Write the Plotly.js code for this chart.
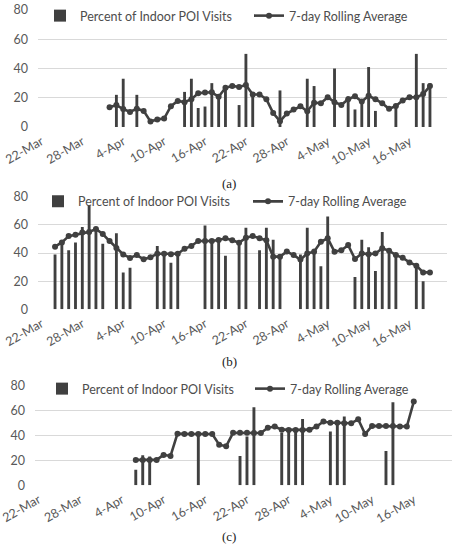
<!DOCTYPE html>
<html><head><meta charset="utf-8">
<script src="https://cdn.plot.ly/plotly-3.0.1.min.js"></script>
<style>html,body{margin:0;padding:0;background:#fff}#chart{width:458px;height:550px}</style>
</head><body><div id="chart"></div>
<script>
// Category dates (x axis)
const dates = ['22-Mar','23-Mar','24-Mar','25-Mar','26-Mar','27-Mar','28-Mar','29-Mar','30-Mar',
  '1-Apr','2-Apr','3-Apr','4-Apr','5-Apr','6-Apr','7-Apr','8-Apr','9-Apr','10-Apr','11-Apr','12-Apr',
  '13-Apr','14-Apr','15-Apr','16-Apr','17-Apr','18-Apr','19-Apr','20-Apr','21-Apr','22-Apr','23-Apr',
  '24-Apr','25-Apr','26-Apr','27-Apr','28-Apr','29-Apr','30-Apr',
  '1-May','2-May','3-May','4-May','5-May','6-May','7-May','8-May','9-May','10-May','11-May','12-May',
  '13-May','14-May','15-May','16-May','17-May','18-May','19-May','20-May','21-May'];
const tickLabels = ['22-Mar','28-Mar','4-Apr','10-Apr','16-Apr','22-Apr','28-Apr','4-May','10-May','16-May'];

// Panel (a)
const aBarDates = ['3-Apr','4-Apr','6-Apr','13-Apr','14-Apr','15-Apr','16-Apr','17-Apr','18-Apr','19-Apr',
  '21-Apr','22-Apr','23-Apr','27-Apr','1-May','2-May','5-May','7-May','8-May','9-May','10-May','11-May',
  '14-May','17-May','18-May','19-May'];
const aBarValues = [22,33,22,24,33,13,14,30,22,27,15,50,22,25,33,28,40,21,12,19,41,11,15,50,30,30];
const aAvgStart = '2-Apr';
const aAvgValues = [13.5,15,12.3,10.3,12.5,11,3.8,5.2,5.8,14.2,17.8,17,19,23,23.6,23.7,20.7,26.8,28.1,27.4,
  28.7,22.2,22.2,19,9.6,4,9.2,11.9,14.2,10.8,16.6,16.3,20.4,17,15,19,21,17.4,21.3,19,16.2,12.4,14.4,18.2,
  20.3,20.3,22.5,28];

// Panel (b)
const bBarDates = ['24-Mar','25-Mar','26-Mar','27-Mar','28-Mar','29-Mar','30-Mar','1-Apr','3-Apr','4-Apr',
  '5-Apr','9-Apr','10-Apr','11-Apr','12-Apr','16-Apr','17-Apr','18-Apr','19-Apr','21-Apr','22-Apr',
  '24-Apr','25-Apr','26-Apr','27-Apr','30-Apr','1-May','2-May','3-May','4-May','8-May','9-May','10-May',
  '11-May','12-May','13-May','14-May','17-May','18-May'];
const bBarValues = [39,47,42,47.5,58.5,74,56,46.5,54,26.2,29.5,45,40,33,40,59.5,49,49.5,38,48,58,42,58,
  49.5,37,39,58,43,30.5,66,23,49.5,44,27.2,55,41.6,38.5,30.5,20];
const bAvgStart = '24-Mar';
const bAvgValues = [44.5,47.5,52,53,54.5,55,57,53.5,48.5,43.5,39,36.5,38.5,35.5,37,39.5,39.5,39.2,39.5,
  43,45,48.5,48.5,48.5,49.2,50.4,49,47.3,50.8,52,50.5,49,37.4,37.4,41,38.5,35.3,39.7,40.9,48,50.4,40.9,
  42,45.6,35.7,39.7,39.2,39.7,43.3,41.6,38.5,36.6,33.3,31,26.2,26.2];

// Panel (c)
const cBarDates = ['6-Apr','7-Apr','8-Apr','15-Apr','21-Apr','22-Apr','23-Apr','27-Apr','28-Apr','29-Apr',
  '30-Apr','4-May','5-May','6-May','12-May','13-May'];
const cBarValues = [12.5,24,23,41.5,23.5,39,62.4,42,43,44,53,43,50,55,27.5,66.4];
const cAvgStart = '6-Apr';
const cAvgValues = [20.3,20.3,20.3,20.3,24.3,23.5,41.3,41,41,41,41,41,32.5,31.2,42,42,42,41.8,41.8,46,47,
  44.5,44.3,44.3,44.3,44.5,47,51,50,50,49.6,49.6,52.8,41,47.5,47.5,47.5,47.5,47,47,67];

const barName = 'Percent of Indoor POI Visits';
const avgName = '7-day Rolling Average';
const dark = '#404040';
const grey = '#595959';
const font = 'Lato, "Open Sans", sans-serif';

const panels = [
  {bx: aBarDates, by: aBarValues, start: aAvgStart, avg: aAvgValues, sfx: '',
   xd: [38/458, 447/458], yd: [1-127/550, 1-10/550], lx: 51/458, ly: 1-16/550, ew: 164, cap: '(a)', capy: 1-183/550},
  {bx: bBarDates, by: bBarValues, start: bAvgStart, avg: bAvgValues, sfx: '2',
   xd: [38/458, 447/458], yd: [1-309.3/550, 1-196.7/550], lx: 53/458, ly: 1-201.7/550, ew: 165, cap: '(b)', capy: 1-361/550},
  {bx: cBarDates, by: cBarValues, start: cAvgStart, avg: cAvgValues, sfx: '3',
   xd: [35/458, 452/458], yd: [1-485.3/550, 1-385.3/550], lx: 58/458, ly: 1-389/550, ew: 163, cap: '(c)', capy: 1-536/550}
];

const traces = [];
const layout = {
  width: 458, height: 550,
  margin: {l: 0, r: 0, t: 0, b: 0},
  paper_bgcolor: '#fff', plot_bgcolor: 'rgba(0,0,0,0)',
  showlegend: true,
  font: {family: font, size: 12, color: grey},
  annotations: []
};

panels.forEach(p => {
  const xa = 'x' + p.sfx, ya = 'y' + p.sfx, lg = 'legend' + p.sfx;
  const i0 = dates.indexOf(p.start);
  const avgX = dates.slice(i0, i0 + p.avg.length);
  traces.push({
    type: 'bar', name: barName, x: p.bx, y: p.by, width: 0.42,
    marker: {color: dark, line: {width: 0}},
    xaxis: xa, yaxis: ya, legend: lg, hoverinfo: 'x+y'
  });
  traces.push({
    type: 'scatter', mode: 'lines+markers', name: avgName, x: avgX, y: p.avg,
    line: {color: dark, width: 2.6}, marker: {color: dark, size: 6},
    xaxis: xa, yaxis: ya, legend: lg, cliponaxis: false
  });
  layout['xaxis' + p.sfx] = {
    domain: p.xd, anchor: ya, type: 'category', categoryorder: 'array', categoryarray: dates,
    range: [-0.5, dates.length - 0.5], tickmode: 'array', tickvals: tickLabels, ticktext: tickLabels,
    tickangle: -30, showgrid: false, zeroline: false, showline: false, ticks: '',
    tickfont: {family: font, size: 12.5, color: grey}, ticklabelstandoff: 4, fixedrange: true
  };
  layout['yaxis' + p.sfx] = {
    domain: p.yd, anchor: xa, range: [0, 80], tickmode: 'array', tickvals: [0, 20, 40, 60, 80],
    showgrid: true, gridcolor: '#d9d9d9', gridwidth: 1, zeroline: false, showline: false, ticks: '',
    tickfont: {family: font, size: 12.5, color: grey}, ticklabelstandoff: 9, fixedrange: true
  };
  layout[lg] = {
    x: p.lx, y: p.ly, xanchor: 'left', yanchor: 'middle', orientation: 'h',
    bgcolor: 'rgba(0,0,0,0)', borderwidth: 0, font: {family: font, size: 12.5, color: '#4d4d4d'},
    entrywidth: p.ew, entrywidthmode: 'pixels', traceorder: 'normal'
  };
  layout.annotations.push({
    text: p.cap, x: 0.5, y: p.capy, xref: 'paper', yref: 'paper', showarrow: false,
    xanchor: 'center', yanchor: 'middle',
    font: {family: '"Liberation Serif", "DejaVu Serif", serif', size: 13, color: '#222'}
  });
});

Plotly.newPlot('chart', traces, layout, {displayModeBar: false, staticPlot: true});
</script></body></html>
